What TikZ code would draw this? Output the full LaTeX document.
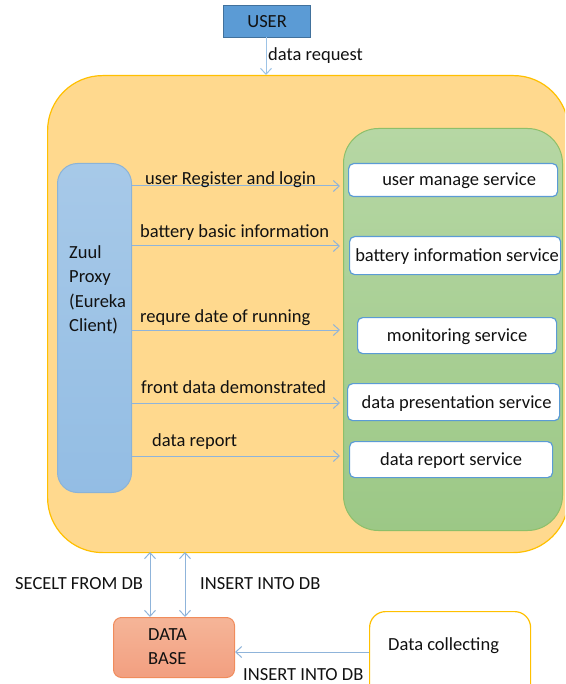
\documentclass[tikz,border=0pt]{standalone}
\usepackage{fontspec}
\setmainfont{Carlito}
\usetikzlibrary{arrows.meta}
\definecolor{userfill}{HTML}{5B9BD5}
\definecolor{userdraw}{HTML}{41719C}
\definecolor{lblue}{HTML}{9DC3E6}
\definecolor{arrowc}{HTML}{8FB4DA}
\definecolor{orfill}{HTML}{FFD98E}
\definecolor{ordraw}{HTML}{FFC000}
\definecolor{grtop}{HTML}{B6D7A4}
\definecolor{grbot}{HTML}{9CC886}
\definecolor{grdraw}{HTML}{8DBF6A}
\definecolor{svcdraw}{HTML}{5B9BD5}
\definecolor{dbtop}{HTML}{F5B598}
\definecolor{dbbot}{HTML}{F29F80}
\definecolor{dbdraw}{HTML}{F08C5C}
\definecolor{txt}{HTML}{111111}
\tikzset{
  x=1pt, y=-1pt,
  every node/.style={font=\fontsize{18.5}{22}\selectfont, text=txt},
  svc/.style={draw=svcdraw, line width=1.2pt, fill=white, rounded corners=5pt, anchor=north west, inner sep=0pt},
  conn/.style={draw=arrowc, line width=1pt, -{Straight Barb[length=6pt,width=11pt]}},
  dconn/.style={draw=arrowc, line width=1pt, {Straight Barb[length=6pt,width=11pt]}-{Straight Barb[length=6pt,width=11pt]}},
  lbl/.style={anchor=base west, inner sep=0pt}
}
\begin{document}
\begin{tikzpicture}
\useasboundingbox (0,0) rectangle (565,684);
% big orange container
\begin{scope}
\clip (0,0) rectangle (565,684);
\node[draw=ordraw, line width=1.2pt, fill=orfill, rounded corners=55pt, minimum width=521pt, minimum height=477pt, anchor=north west, inner sep=0pt] (main) at (47,75) {};
\node[draw=grdraw, line width=1pt, top color=grtop, bottom color=grbot, rounded corners=35pt, minimum width=219pt, minimum height=402pt, anchor=north west, inner sep=0pt] (green) at (343,128) {};
\end{scope}
% user
\node[draw=userdraw, line width=1.2pt, fill=userfill, minimum width=87pt, minimum height=32pt, anchor=north west, inner sep=0pt] (user) at (223,5) {};
\node at (user.center) {USER};
\coordinate (ua) at (266,75);
\draw[conn, draw=lblue] (266,37) -- (ua);
\node[lbl] at (268,61) {data request};
% proxy
\node[draw=lblue!80!userdraw, line width=1pt, top color=lblue!90!white, bottom color=lblue!85!userfill, rounded corners=20pt, minimum width=74pt, minimum height=329pt, anchor=north west, inner sep=0pt] (proxy) at (57,163) {};
\node[anchor=north west, align=left, inner sep=0pt, font=\fontsize{18.5}{24.5}\selectfont] at (69,245) {Zuul\\Proxy\\(Eureka\\Client)};
% services
\node[svc, minimum width=209pt, minimum height=33pt] (s1) at (348,163) {};
\node at ([yshift=-1pt]s1.center) {\hspace*{12pt}user manage service};
\node[svc, minimum width=211pt, minimum height=38pt] (s2) at (349,236) {};
\node at ([yshift=-1pt]s2.center) {\hspace*{4pt}battery information service};
\node[svc, minimum width=199pt, minimum height=36pt] (s3) at (357,317) {};
\node at ([yshift=-1pt]s3.center) {monitoring service};
\node[svc, minimum width=212pt, minimum height=37pt] (s4) at (347,383) {};
\node at ([yshift=-1pt]s4.center) {\hspace*{6pt}data presentation service};
\node[svc, minimum width=203pt, minimum height=36pt] (s5) at (349,441) {};
\node at ([yshift=-1pt]s5.center) {data report service};
% arrows proxy -> services
\coordinate (a1) at (340,186);
\coordinate (a2) at (340,246);
\coordinate (a3) at (340,330);
\coordinate (a4) at (340,403);
\coordinate (a5) at (340,456);
\draw[conn] (proxy.east |- a1) -- (a1);
\draw[conn] (proxy.east |- a2) -- (a2);
\draw[conn] (proxy.east |- a3) -- (a3);
\draw[conn] (proxy.east |- a4) -- (a4);
\draw[conn] (proxy.east |- a5) -- (a5);
\node[lbl] at (145,185) {user Register and login};
\node[lbl] at (140,237) {battery basic information};
\node[lbl] at (140,322) {requre date of running};
\node[lbl] at (141,393) {front data demonstrated};
\node[lbl] at (152,446) {data report};
% database
\node[draw=dbdraw, line width=1pt, top color=dbtop, bottom color=dbbot, rounded corners=8pt, minimum width=121pt, minimum height=60pt, anchor=north west, inner sep=0pt] (db) at (113,617) {};
\node[anchor=north west, align=left, inner sep=0pt, font=\fontsize{18.5}{24}\selectfont] at (148,628) {DATA\\BASE};
% data collecting
\node[draw=ordraw, line width=1.2pt, fill=white, rounded corners=16pt, minimum width=161pt, minimum height=90pt, anchor=north west, inner sep=0pt] (dc) at (369,611) {};
\node[lbl] at (388,650) {Data collecting};
% db arrows
\draw[dconn] (150,552) -- (db.north -| 150,0);
\draw[dconn] (185,552) -- (db.north -| 185,0);
\node[lbl] at (15,589) {SECELT FROM DB};
\node[lbl] at (200,589) {INSERT INTO DB};
\draw[conn] (dc.west |- 0,652) -- (db.east |- 0,652);
\node[lbl] at (243,680) {INSERT INTO DB};
\end{tikzpicture}
\end{document}
